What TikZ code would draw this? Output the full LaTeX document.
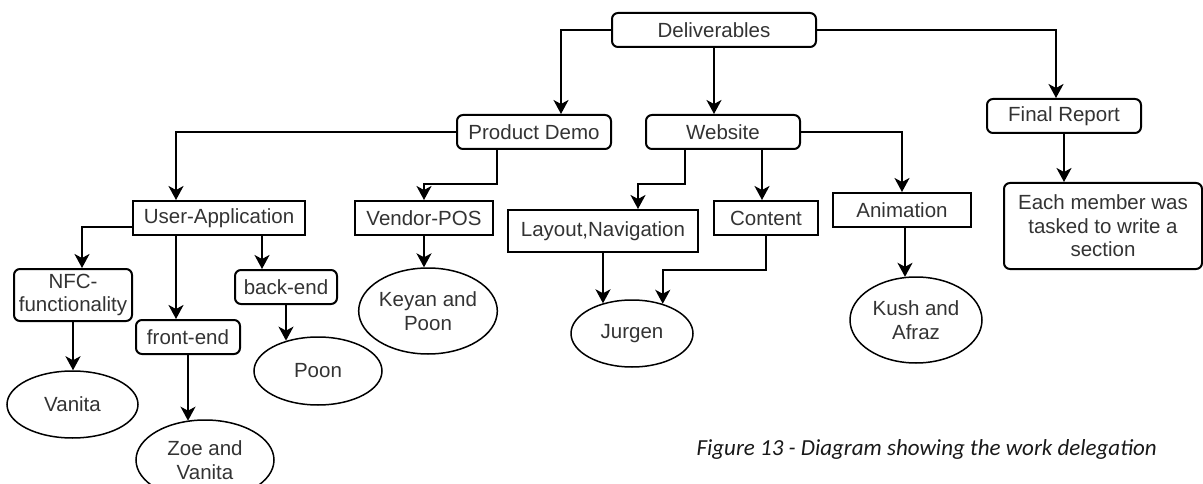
\documentclass[tikz,border=0pt]{standalone}
\usepackage{fontspec}
\setmainfont{Liberation Sans}
\newfontfamily\capfont{Carlito}
\usetikzlibrary{shapes.geometric,arrows.meta}
\definecolor{txt}{HTML}{333333}
\newcommand{\dgfont}{\fontsize{20.5pt}{23.5pt}\selectfont}
\tikzset{
  box/.style={draw, line width=2pt, inner sep=0pt, align=center, text=txt, font=\dgfont},
  rbox/.style={box, rounded corners=6pt},
  ell/.style={ellipse, draw, line width=1.5pt, inner sep=0pt, align=center, text=txt, font=\dgfont},
  arr/.style={line width=2pt, -{Stealth[length=14pt,width=15pt,inset=4pt]}},
}
\begin{document}
\begin{tikzpicture}[x=1pt,y=-1pt]
\useasboundingbox (0,0) rectangle (1203,484);
\clip (0,0) rectangle (1203,484);
% level 0/1
\node[rbox, minimum width=204pt, minimum height=34pt] (del) at (714,30) {Deliverables};
\node[rbox, minimum width=154pt, minimum height=34pt] (pd) at (534,132) {Product Demo};
\node[rbox, minimum width=154pt, minimum height=34pt] (web) at (723,132) {Website};
\node[rbox, minimum width=154pt, minimum height=34pt] (fr) at (1064,116) {Final Report};
\node[rbox, minimum width=198pt, minimum height=86pt] (em) at (1103,226) {Each member was\\tasked to write a\\section};
% level 2
\node[box, minimum width=172pt, minimum height=34pt] (ua) at (219,218) {User-Application};
\node[box, minimum width=138pt, minimum height=34pt] (vp) at (424,218) {Vendor-POS};
\node[box, minimum width=190pt, minimum height=42pt] (lay) at (603,231) {Layout,Navigation};
\node[box, minimum width=104pt, minimum height=34pt] (cont) at (766,218) {Content};
\node[box, minimum width=138pt, minimum height=34pt] (anim) at (902,210) {Animation};
% level 3
\node[rbox, minimum width=118pt, minimum height=52pt] (nfc) at (73,295) {NFC-\\functionality};
\node[rbox, minimum width=104pt, minimum height=34pt] (fe) at (188,337) {front-end};
\node[rbox, minimum width=102pt, minimum height=34pt] (be) at (286,287) {back-end};
% people
\node[ell, minimum width=131pt, minimum height=67pt] (van) at (72.5,404.5) {Vanita};
\node[ell, minimum width=138pt, minimum height=80pt] (zoe) at (205,460) {Zoe and\\Vanita};
\node[ell, minimum width=128pt, minimum height=68pt] (poon) at (318,371) {Poon};
\node[ell, minimum width=130pt, minimum height=86pt] (key) at (428,311) {Keyan and\\Poon};
\node[ell, minimum width=122pt, minimum height=67pt] (jur) at (632,333.5) {Jurgen};
\node[ell, minimum width=132pt, minimum height=86pt] (kush) at (916,320) {Kush and\\Afraz};
% caption
\node[anchor=base east, inner sep=0pt, text=black!90, font=\capfont\fontsize{23pt}{26pt}\selectfont\itshape] (cap) at (1157,455) {Figure 13 - Diagram showing the work delegation};
% connectors
\draw[arr] (del.west) -| ([xshift=27pt]pd.north);
\draw[arr] (del.south) -- (del.south |- web.north);
\draw[arr] (del.east) -| ([xshift=-8pt]fr.north);
\draw[arr] (fr.south) -- (fr.south |- em.north);
\draw[arr] (pd.west) -| ([xshift=-43pt]ua.north);
\draw[arr] ([xshift=-37pt]pd.south) -- ++(0,34) -| (vp.north);
\draw[arr] ([xshift=-38pt]web.south) -- ++(0,34) -| ([xshift=35pt]lay.north);
\draw[arr] ([xshift=39pt]web.south) -- ([xshift=-4pt]cont.north);
\draw[arr] (web.east) -| (anim.north);
\draw[arr] ([yshift=-9pt]ua.west) -| ([xshift=9pt]nfc.north);
\draw[arr] ([xshift=-43pt]ua.south) -- ([xshift=-12pt]fe.north);
\draw[arr] ([xshift=43pt]ua.south) -- ([xshift=-24pt]be.north);
\draw[arr] (nfc.south) -- (nfc.south |- van.north);
\draw[arr] (fe.south) -- (fe.south |- zoe.115);
\draw[arr] (be.south) -- (be.south |- poon.136);
\draw[arr] (vp.south) -- (vp.south |- key.95);
\draw[arr] (lay.south) -- (lay.south |- jur.134);
\draw[arr] (cont.south) -- ++(0,34) -| (jur.44);
\draw[arr] ([xshift=3pt]anim.south) -- ([xshift=3pt]anim.south |- kush.104);
\end{tikzpicture}
\end{document}
